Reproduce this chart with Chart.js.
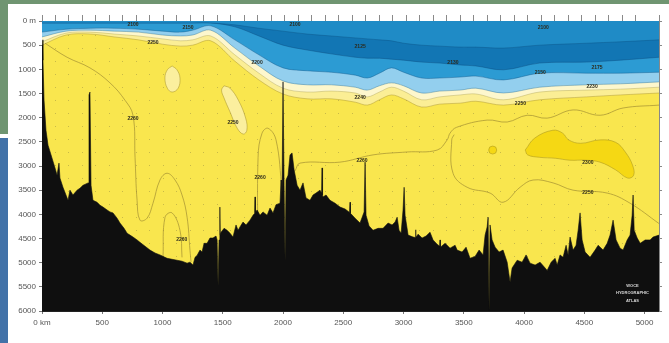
<!DOCTYPE html>
<html>
<head>
<meta charset="utf-8">
<script src="https://cdn.jsdelivr.net/npm/chart.js@4/dist/chart.umd.min.js"></script>
<style>
  html, body { margin: 0; padding: 0; background: #fff; }
  #wrap { position: relative; width: 669px; height: 343px; overflow: hidden; }
  .strip { position: absolute; }
  #topBand { left: 0; top: 0; width: 669px; height: 4px; background: #6f9571; }
  #leftGreen { left: 0; top: 0; width: 8px; height: 134px; background: #6f9571; }
  #leftBlue { left: 0; top: 138px; width: 8px; height: 205px; background: #4272a8; }
  canvas { position: absolute; left: 0; top: 0; }
</style>
</head>
<body>
<div id="wrap">
  <div class="strip" id="topBand"></div>
  <div class="strip" id="leftGreen"></div>
  <div class="strip" id="leftBlue"></div>
  <canvas id="section" width="669" height="343"></canvas>
</div>
<script>
// station positions (km) where the layer boundaries were read
const stationKm = [0, 200, 400, 600, 800, 1000, 1150, 1250, 1400, 1600, 1800, 2000, 2200, 2400, 2600, 2700, 2800, 2900, 3000, 3150, 3300, 3470, 3600, 3830, 4130, 4520, 4800, 5120];
// depth (m) of the bottom of each coloured layer, top to bottom
const depthA = [40, 40, 40, 40, 40, 40, 40, 40, 40, 80, 150, 210, 270, 310, 350, 370, 390, 410, 460, 500, 520, 540, 540, 560, 500, 460, 430, 390];
const depthB = [40, 40, 40, 40, 40, 40, 40, 40, 40, 120, 310, 500, 600, 680, 750, 770, 770, 790, 810, 850, 870, 910, 930, 1010, 870, 850, 810, 750];
const depthC = [230, 170, 150, 150, 170, 210, 230, 190, 100, 390, 700, 970, 1030, 1060, 1120, 1180, 1080, 970, 1060, 1180, 1180, 1160, 1140, 1220, 1080, 1080, 1080, 1060];
const depthD = [330, 210, 190, 210, 230, 290, 310, 290, 190, 560, 930, 1240, 1320, 1320, 1370, 1430, 1340, 1280, 1340, 1490, 1450, 1430, 1390, 1490, 1370, 1320, 1300, 1260];
const depthE = [430, 250, 230, 270, 310, 370, 410, 390, 310, 700, 1080, 1390, 1470, 1450, 1490, 1570, 1470, 1370, 1450, 1630, 1570, 1530, 1510, 1630, 1470, 1430, 1410, 1370];
const depthF = [500, 290, 270, 330, 390, 480, 520, 500, 410, 830, 1220, 1510, 1610, 1610, 1680, 1740, 1630, 1530, 1610, 1780, 1720, 1700, 1660, 1740, 1630, 1570, 1530, 1490];

// sea floor
const bathyKm = [
  0, 8, 17, 33, 50, 75, 108, 125, 141, 149,
  174, 199, 216, 232, 257, 291, 315, 340, 365, 382,
  390, 398, 407, 423, 457, 481, 506, 540, 564, 589,
  623, 647, 681, 706, 730, 755, 789, 813, 855, 896,
  938, 979, 1038, 1079, 1121, 1162, 1204, 1228, 1253, 1270,
  1287, 1311, 1328, 1345, 1370, 1394, 1419, 1444, 1453, 1461,
  1469, 1475, 1477, 1479, 1486, 1511, 1536, 1560, 1585, 1610, 1627, 1643, 1668,
  1693, 1726, 1751, 1765, 1768, 1771, 1785, 1809, 1834, 1868, 1892, 1917, 1942,
  1975, 1984, 1988, 1992, 2000, 2009, 2017, 2025, 2042, 2058, 2075, 2092,
  2117, 2141, 2166, 2191, 2224, 2249, 2274, 2307, 2320, 2324, 2328, 2332, 2357,
  2390, 2432, 2473, 2515, 2552, 2556, 2560, 2598, 2639, 2673, 2681, 2689,
  2714, 2747, 2789, 2830, 2872, 2905, 2930, 2947, 2963, 2980,
  2996, 3005, 3013, 3038, 3079, 3098, 3100, 3103, 3121, 3154, 3187, 3220, 3245,
  3279, 3300, 3303, 3306, 3345, 3386, 3428, 3445, 3486, 3519, 3552, 3594,
  3627, 3660, 3677, 3694, 3702, 3710, 3718, 3735, 3760, 3793,
  3826, 3860, 3884, 3901, 3943, 3984, 4017, 4050, 4092, 4133,
  4175, 4192, 4225, 4258, 4275, 4299, 4324, 4349, 4366, 4382,
  4407, 4432, 4449, 4465, 4482, 4507, 4548, 4590, 4615, 4656,
  4690, 4714, 4739, 4764, 4797, 4822, 4856, 4880, 4897, 4905,
  4914, 4939, 4964, 5005, 5046, 5071, 5120];
const bathyDepth = [
  390, 810, 1640, 2260, 2570, 2770, 3040, 3190, 2940, 3250,
  3440, 3600, 3710, 3500, 3600, 3500, 3460, 3400, 3370, 3350,
  1530, 1470, 3400, 3710, 3750, 3810, 3850, 3910, 3950, 3970,
  4080, 4180, 4290, 4390, 4430, 4470, 4530, 4580, 4660, 4740,
  4800, 4840, 4910, 4930, 4950, 4970, 5010, 4990, 5050, 4890,
  4850, 4740, 4780, 4600, 4600, 4490, 4490, 4450, 4530, 5470,
  4530, 4450, 3850, 4420, 4370, 4290, 4330, 4390, 4470, 4220, 4330, 4260, 4160,
  4220, 4120, 4020, 3980, 3640, 3960, 3910, 4020, 3950, 4020, 3870, 3970, 3800,
  3770, 3290, 3700, 3500, 1260, 3400, 4950, 3290, 3190, 2770, 2730, 3080,
  3400, 3500, 3350, 3660, 3710, 3600, 3560, 3500, 3560, 3040, 3600, 3640, 3600,
  3710, 3770, 3850, 3890, 3960, 3750, 3980, 4080, 4180, 3950, 2920, 4020,
  4240, 4330, 4290, 4290, 4180, 4220, 4160, 4060, 4330, 4390,
  3910, 3440, 4020, 4430, 4470, 4480, 4320, 4480, 4410, 4490, 4450, 4370, 4530,
  4620, 4660, 4530, 4680, 4600, 4700, 4640, 4740, 4780, 4680, 4910, 4870,
  4740, 4840, 4430, 4260, 4060, 5980, 4220, 4530, 4680, 4780,
  4740, 4990, 5400, 5110, 4950, 4990, 4840, 5010, 5050, 4990,
  5110, 5160, 4990, 4910, 5050, 4840, 4890, 4640, 4840, 4470,
  4740, 4640, 4330, 3970, 4530, 4780, 4890, 4740, 4640, 4740,
  4600, 4430, 4120, 4530, 4700, 4740, 4530, 4430, 4020, 3600,
  4330, 4490, 4600, 4530, 4530, 4470, 4430];

// closed patches
const blob1Km = [1080, 1120, 1145, 1130, 1080, 1040, 1020, 1040, 1080];
const blob1Depth = [930, 1010, 1180, 1390, 1470, 1390, 1180, 1010, 930];
const blob2Km = [1510, 1560, 1630, 1690, 1700, 1670, 1620, 1560, 1510, 1490, 1510];
const blob2Depth = [1340, 1390, 1640, 2010, 2260, 2340, 2220, 1880, 1590, 1430, 1340];
const coreKm = [4010, 4090, 4240, 4320, 4370, 4470, 4630, 4760, 4840, 4900, 4910, 4860, 4760, 4630, 4510, 4380, 4260, 4130, 4030, 4010];
const coreDepth = [2670, 2420, 2260, 2320, 2460, 2530, 2460, 2510, 2710, 2980, 3190, 3250, 3080, 2920, 2880, 2880, 2840, 2820, 2770, 2670];
const spotKm = [3740];
const spotDepth = [2670];

// contour lines
const line1Km = [25, 208, 398, 564, 689, 755, 772, 789, 813, 872, 921, 979, 1038, 1104, 1162, 1204, 1228, 1237];
const line1Depth = [460, 750, 970, 1280, 1640, 1950, 2820, 3710, 4120, 4080, 3770, 3290, 3150, 3290, 3600, 4060, 4740, 4990];
const line2Km = [1004, 1021, 1079, 1145, 1162];
const line2Depth = [4890, 4060, 3970, 4330, 4890];
const line3Km = [1793, 1793, 1826, 1876, 1942, 1992];
const line3Depth = [4840, 2820, 2320, 2220, 2460, 3500];
const line4Km = [2100, 2141, 2473, 2747, 3030, 3279, 3362, 3386, 3440, 3694, 3860, 4026, 4192, 4407, 4631, 4822, 5120];
const line4Depth = [3100, 2940, 2920, 2770, 2710, 2670, 2460, 2320, 2200, 2050, 2090, 1950, 2010, 1840, 1950, 1800, 1740];
const line5Km = [3420, 3400, 3411, 3528, 3718, 3826, 3967, 4075, 4241, 4407, 4690, 4880, 5120];
const line5Depth = [2350, 2460, 3150, 3440, 3560, 3750, 3440, 3290, 3350, 3500, 3560, 3770, 4190];

// contour value labels
const labelText = ['2100', '2150', '2100', '2250', '2200', '2125', '2240', '2100', '2130', '2175', '2150', '2230', '2250', '2260', '2300', '2250', '2260', '2250', '2260', '2260'];
const labelKm = [755, 1212, 2100, 921, 1785, 2640, 2640, 4160, 3410, 4605, 4135, 4565, 3970, 2655, 4530, 4530, 755, 1585, 1810, 1160];
const labelDepth = [83, 145, 83, 455, 870, 540, 1575, 145, 870, 970, 1075, 1365, 1700, 2880, 2940, 3560, 2010, 2110, 3250, 4530];

const kmTicks = [0, 500, 1000, 1500, 2000, 2500, 3000, 3500, 4000, 4500, 5000];
const depthTicks = [0, 500, 1000, 1500, 2000, 2500, 3000, 3500, 4000, 4500, 5000, 5500, 6000];

const stampText = ['WOCE', 'HYDROGRAPHIC', 'ATLAS'];
const stampKm = [4900, 4900, 4900];
const stampDepth = [5480, 5630, 5790];

function pts(xs, ys) {
  return xs.map((x, i) => ({ x: x, y: ys[i] }));
}

function layer(depths, color, edge, order) {
  return {
    data: pts(stationKm, depths),
    backgroundColor: color,
    borderColor: edge,
    borderWidth: 0.8,
    fill: { value: 0 },
    tension: 0.35,
    pointRadius: 0,
    order: order
  };
}

function patch(xs, ys, color, edge, order) {
  return {
    data: pts(xs, ys),
    backgroundColor: color,
    borderColor: edge,
    borderWidth: 0.8,
    fill: 'shape',
    tension: 0.4,
    pointRadius: 0,
    order: order
  };
}

function contour(xs, ys) {
  return {
    data: pts(xs, ys),
    borderColor: 'rgba(165,145,50,0.8)',
    borderWidth: 0.9,
    fill: false,
    tension: 0.4,
    pointRadius: 0,
    order: 5
  };
}

const seaBackground = {
  id: 'seaBackground',
  beforeDraw(chart) {
    const { ctx, chartArea: a } = chart;
    ctx.save();
    ctx.fillStyle = '#f9e64e';
    ctx.fillRect(a.left, a.top, a.right - a.left, a.bottom - a.top);
    ctx.restore();
  }
};

const contourLabels = {
  id: 'contourLabels',
  afterDatasetsDraw(chart) {
    const { ctx } = chart;
    const x = chart.scales.x, y = chart.scales.y;
    ctx.save();
    ctx.textAlign = 'center';
    ctx.textBaseline = 'middle';
    ctx.font = 'bold 5px "Liberation Sans", Arial, sans-serif';
    ctx.fillStyle = '#2c2a1c';
    labelText.forEach((t, i) => {
      ctx.fillText(t, x.getPixelForValue(labelKm[i]), y.getPixelForValue(labelDepth[i]));
    });
    ctx.font = 'bold 4px "Liberation Sans", Arial, sans-serif';
    ctx.fillStyle = '#d8d8d8';
    stampText.forEach((t, i) => {
      ctx.fillText(t, x.getPixelForValue(stampKm[i]), y.getPixelForValue(stampDepth[i]));
    });
    ctx.restore();
  }
};

const tickFont = { family: '"Liberation Sans", Arial, sans-serif', size: 8 };

new Chart(document.getElementById('section').getContext('2d'), {
  type: 'line',
  data: {
    datasets: [
      layer(depthF, '#fbee95', 'rgba(170,150,50,0.6)', 20),
      layer(depthE, '#fdf7cd', 'rgba(170,160,90,0.5)', 19),
      layer(depthD, '#93cfee', 'rgba(40,110,150,0.5)', 18),
      layer(depthC, '#2c9bd3', 'rgba(10,80,130,0.5)', 17),
      layer(depthB, '#1276b4', 'rgba(10,70,120,0.5)', 16),
      layer(depthA, '#1f8bc6', 'rgba(10,80,130,0.5)', 15),
      patch(blob1Km, blob1Depth, '#fbef9e', 'rgba(170,150,50,0.7)', 10),
      patch(blob2Km, blob2Depth, '#fbef9e', 'rgba(170,150,50,0.7)', 10),
      patch(coreKm, coreDepth, '#f5d814', 'rgba(170,150,30,0.7)', 9),
      {
        data: pts(spotKm, spotDepth),
        showLine: false,
        pointRadius: 4,
        pointBackgroundColor: '#f5d814',
        pointBorderColor: 'rgba(170,150,30,0.7)',
        pointBorderWidth: 0.8,
        order: 9
      },
      contour(line1Km, line1Depth),
      contour(line2Km, line2Depth),
      contour(line3Km, line3Depth),
      contour(line4Km, line4Depth),
      contour(line5Km, line5Depth),
      {
        data: pts(bathyKm, bathyDepth),
        backgroundColor: '#0f0f0f',
        borderColor: '#0f0f0f',
        borderWidth: 0.6,
        fill: { value: 6000 },
        tension: 0,
        pointRadius: 0,
        order: 2
      }
    ]
  },
  options: {
    responsive: false,
    animation: false,
    devicePixelRatio: 1,
    layout: { padding: { left: 0, right: 6, top: 0, bottom: 0 } },
    plugins: { legend: { display: false }, tooltip: { enabled: false } },
    scales: {
      x: {
        type: 'linear',
        position: 'bottom',
        min: 0,
        max: 5120,
        afterFit(s) { s.height = 32; },
        afterBuildTicks(s) { s.ticks = kmTicks.map(v => ({ value: v })); },
        ticks: {
          color: '#555',
          font: tickFont,
          padding: 4,
          maxRotation: 0,
          autoSkip: false,
          callback: v => (v === 0 ? '0 km' : String(v))
        },
        grid: { drawOnChartArea: false, tickLength: 3, color: '#777' },
        border: { color: '#222' }
      },
      xTop: {
        type: 'linear',
        position: 'top',
        min: 0,
        max: 5120,
        afterFit(s) { s.height = 21; },
        ticks: { display: false, stepSize: 112 },
        grid: { drawOnChartArea: true, tickLength: 6, color: 'rgba(110,100,60,0.35)', tickColor: '#8a8a8a' },
        border: { color: '#145c8e', dash: [1, 12] }
      },
      y: {
        type: 'linear',
        reverse: true,
        min: 0,
        max: 6000,
        afterFit(s) { s.width = 42; },
        afterBuildTicks(s) { s.ticks = depthTicks.map(v => ({ value: v })); },
        ticks: {
          color: '#555',
          font: tickFont,
          padding: 3,
          callback: v => (v === 0 ? '0 m' : String(v))
        },
        grid: { drawOnChartArea: false, tickLength: 3, color: '#777' },
        border: { color: '#222' }
      },
      yRight: {
        type: 'linear',
        position: 'right',
        reverse: true,
        min: 0,
        max: 6000,
        afterFit(s) { s.width = 4; },
        ticks: { display: false, stepSize: 500 },
        grid: { drawOnChartArea: false, tickLength: 3, color: '#888' },
        border: { color: '#888' }
      }
    }
  },
  plugins: [seaBackground, contourLabels]
});
</script>
</body>
</html>
